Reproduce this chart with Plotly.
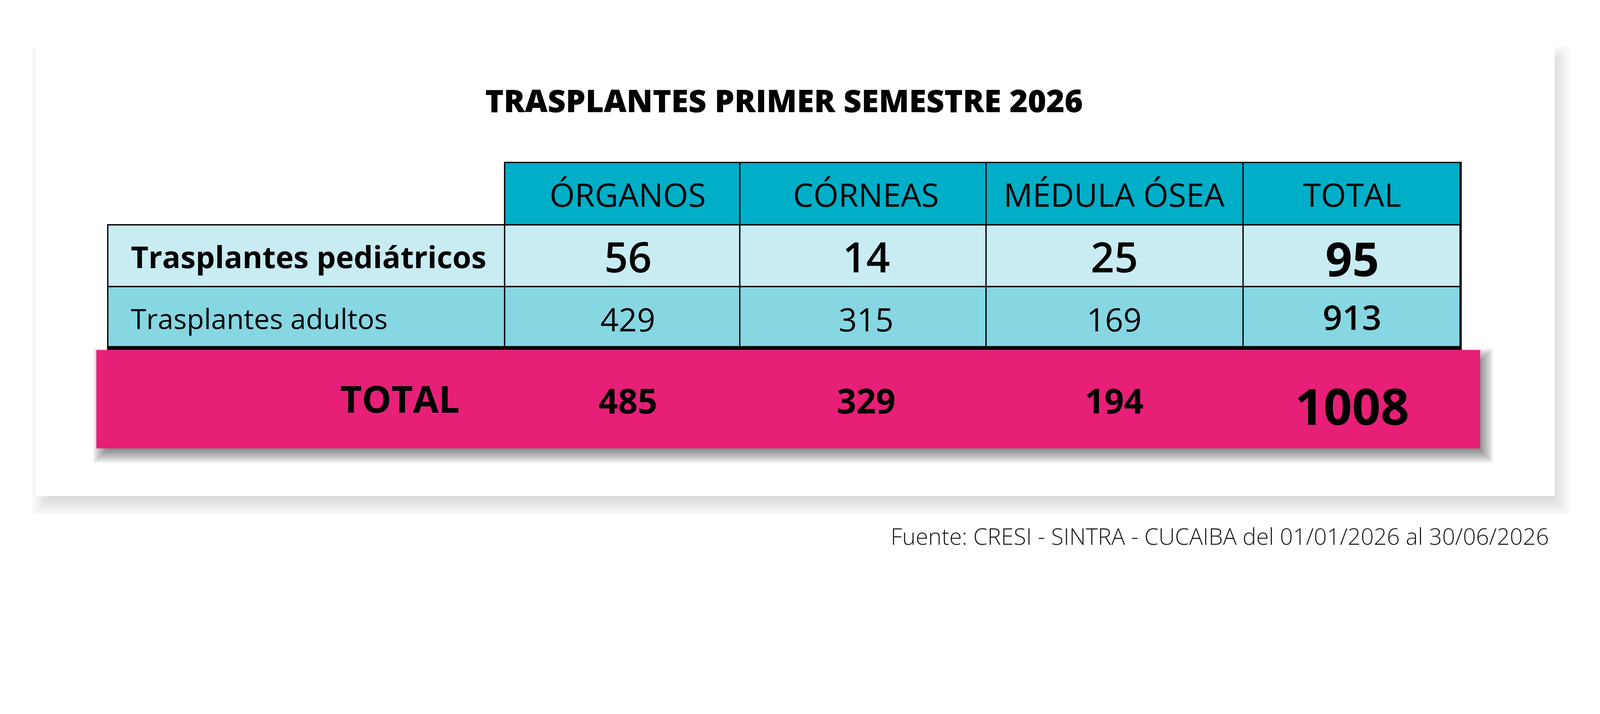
import plotly.graph_objects as go

# ---------------- data ----------------
title_text = "TRASPLANTES PRIMER SEMESTRE 2026"
categories = ["ÓRGANOS", "CÓRNEAS", "MÉDULA ÓSEA", "TOTAL"]
row_labels = ["Trasplantes pediátricos", "Trasplantes adultos"]
pediatricos = [56, 14, 25, 95]
adultos = [429, 315, 169, 913]
totales = [485, 329, 194, 1008]
total_label = "TOTAL"
source_text = "Fuente: CRESI - SINTRA - CUCAIBA del 01/01/2026 al 30/06/2026"

# ---------------- page / scale settings ----------------
DPR = 1.196        # device pixels per CSS pixel in the photographed window
PAGE_MARGIN = 8    # default body margin (CSS px)
FIG_W, FIG_H = 4060, 1500  # CSS px, fits inside the viewport
OFF = DPR * PAGE_MARGIN
X_RANGE = [OFF, OFF + DPR * FIG_W]
Y_RANGE = [OFF + DPR * FIG_H, OFF]
FONT = "Open Sans"


def fs(px):
    """font size / line width given in screenshot pixels -> CSS px"""
    return px / DPR


# ---------------- layout geometry (screenshot pixels) ----------------
card = (108, 140, 4760, 1518)
col_edges = [1545, 2265, 3019, 3806, 4472]
text_cx = [1922, 2652, 3412, 4140]
label_x0 = 330
label_text_x = 398
header_y = (497, 688)
row_y = [(688, 877), (877, 1060)]
thick_y = (1059, 1071)
pink = (295, 1071, 4532, 1372)

C_HEADER = "#00AEC7"
C_ROW1 = "#C8ECF2"
C_ROW2 = "#86D7E2"
C_PINK = "#E71F77"

shapes = []


def rect(x0, y0, x1, y1, fill):
    shapes.append(dict(type="rect", xref="x", yref="y", x0=x0, y0=y0, x1=x1, y1=y1,
                       fillcolor=fill, line=dict(width=0), layer="above"))


def line(x0, y0, x1, y1, w=4, color="#000000"):
    shapes.append(dict(type="line", xref="x", yref="y", x0=x0, y0=y0, x1=x1, y1=y1,
                       line=dict(color=color, width=fs(w)), layer="above"))


def soft_shadow(box, dx, dy, blur, peak, n=14):
    x0, y0, x1, y1 = box
    alpha = 1 - (1 - peak) ** (1.0 / n)
    for k in range(n):
        e = blur * (k / (n - 1) - 0.5)
        rect(x0 + dx - e, y0 + dy - e, x1 + dx + e, y1 + dy + e, f"rgba(0,0,0,{alpha:.4f})")


# card with soft shadow
soft_shadow(card, 18, 30, 60, 0.15)
rect(*card, "#FFFFFF")

# header cells and body rows
rect(col_edges[0], header_y[0], col_edges[-1], header_y[1], C_HEADER)
rect(label_x0, row_y[0][0], col_edges[-1], row_y[0][1], C_ROW1)
rect(label_x0, row_y[1][0], col_edges[-1], row_y[1][1], C_ROW2)

# grid lines
line(col_edges[0], header_y[0], col_edges[-1] + 3, header_y[0])
line(label_x0, row_y[0][0], col_edges[-1], row_y[0][0])
line(label_x0, row_y[1][0], col_edges[-1], row_y[1][0])
line(label_x0, row_y[0][0] - 2, label_x0, thick_y[1])
for xe in col_edges[:-1]:
    line(xe, header_y[0] - 2, xe, thick_y[0])
line(col_edges[-1], header_y[0] - 2, col_edges[-1], thick_y[1], w=7)
rect(label_x0 - 2, thick_y[0], col_edges[-1] + 3.5, thick_y[1], "#000000")

# pink total band with shadow
soft_shadow(pink, 15, 20, 50, 0.5)
rect(*pink, C_PINK)

# ---------------- text ----------------
ann = []


def text(x, y, s, size, weight=400, xanchor="center", color="#000000"):
    ann.append(dict(x=x, y=y, xref="x", yref="y", text=s, showarrow=False,
                    xanchor=xanchor, yanchor="middle",
                    font=dict(family=FONT, size=fs(size), weight=weight, color=color)))


text(2400, 306, title_text, 96, 800)

for cx, cat in zip(text_cx, categories):
    text(cx, 594, cat, 99, 400)

text(label_text_x, 785, row_labels[0], 93, 700, xanchor="left")
text(label_text_x, 973, row_labels[1], 86, 400, xanchor="left")

for i, (cx, v) in enumerate(zip(text_cx, pediatricos)):
    last = i == len(pediatricos) - 1
    text(cx, 789 if last else 785, str(v), 144 if last else 127, 700 if last else 600)

for i, (cx, v) in enumerate(zip(text_cx, adultos)):
    last = i == len(adultos) - 1
    text(cx, 969 if last else 976, str(v), 105 if last else 98, 600 if last else 400)

text(1410, 1219, total_label, 114, 700, xanchor="right")
for i, (cx, v) in enumerate(zip(text_cx, totales)):
    last = i == len(totales) - 1
    text(cx, 1240 if last else 1225, str(v), 153 if last else 105, 700)

text(4745, 1640, source_text, 70, 300, xanchor="right", color="#1a1a1a")

fig = go.Figure()
fig.update_layout(
    width=FIG_W, height=FIG_H,
    margin=dict(l=0, r=0, t=0, b=0),
    paper_bgcolor="#FFFFFF", plot_bgcolor="#FFFFFF",
    xaxis=dict(range=X_RANGE, visible=False, fixedrange=True),
    yaxis=dict(range=Y_RANGE, visible=False, fixedrange=True),
    shapes=shapes, annotations=ann, showlegend=False,
)
fig.write_html("out.html", config={"displayModeBar": False})
